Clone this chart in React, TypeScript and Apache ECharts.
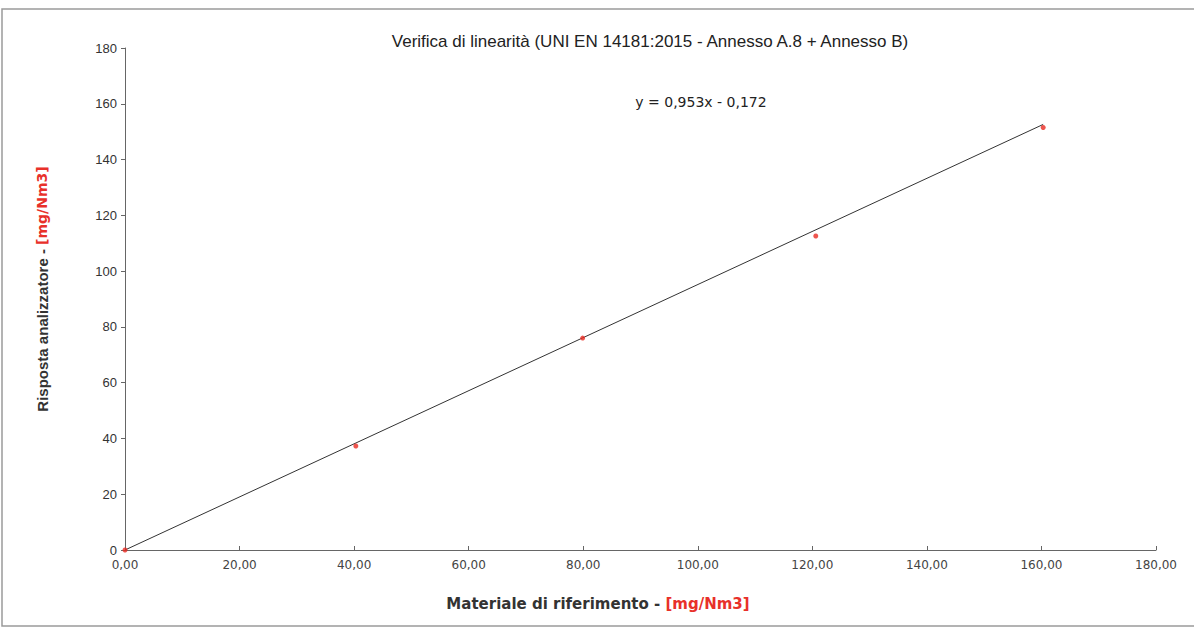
import React, { useEffect, useRef } from "react";
import * as echarts from "echarts";

const titleText = "Verifica di linearità (UNI EN 14181:2015 - Annesso A.8 + Annesso B)";
const equationText = "y = 0,953x - 0,172";
const refValues = [0, 40.3, 79.9, 120.6, 160.3];
const analyzerValues = [0, 37.3, 76.0, 112.6, 151.5];
const trendSlope = 0.953;
const trendIntercept = -0.172;
const xTicksMax = 180;
const yTicksMax = 180;
const tickStep = 20;

export default function App() {
  const ref = useRef<HTMLDivElement>(null);
  useEffect(() => {
    if (!ref.current) return;
    const chart = echarts.init(ref.current, undefined, { renderer: "svg" });
    const points = refValues.map((x, i) => [x, analyzerValues[i]]);
    const xMinData = Math.min(...refValues);
    const xMaxData = Math.max(...refValues);
    const trend = [
      [xMinData, Math.max(0, trendSlope * xMinData + trendIntercept)],
      [xMaxData, trendSlope * xMaxData + trendIntercept],
    ];
    chart.setOption({
      animation: false,
      backgroundColor: "#ffffff",
      title: {
        text: titleText,
        left: 645,
        top: 28,
        textAlign: "center",
        textStyle: {
          fontFamily: "Liberation Sans",
          fontSize: 17,
          fontWeight: "normal",
          color: "#222",
        },
      },
      grid: { left: 125, right: 38, top: 48, bottom: 80 },
      xAxis: {
        type: "value",
        min: 0,
        max: xTicksMax,
        interval: tickStep,
        axisLine: { show: true, lineStyle: { color: "#666", width: 1 } },
        axisTick: { show: true, inside: true, length: 4, lineStyle: { color: "#666" } },
        splitLine: { show: false },
        axisLabel: {
          margin: 9,
          fontFamily: "DejaVu Sans",
          fontSize: 12,
          color: "#444",
          formatter: (v: number) => v.toFixed(2).replace(".", ","),
        },
      },
      yAxis: {
        type: "value",
        min: 0,
        max: yTicksMax,
        interval: tickStep,
        axisLine: { show: true, lineStyle: { color: "#666", width: 1 } },
        axisTick: { show: true, inside: false, length: 4, lineStyle: { color: "#666" } },
        splitLine: { show: false },
        axisLabel: {
          margin: 8,
          fontFamily: "Liberation Sans",
          fontSize: 13,
          color: "#333",
        },
      },
      graphic: [
        {
          type: "rect",
          shape: { x: 2, y: 9, width: 1200, height: 617 },
          style: { fill: "none", stroke: "#9a9a9a", lineWidth: 1.5 },
          silent: true,
        },
        {
          type: "text",
          x: 701,
          y: 102,
          style: {
            text: equationText,
            fontFamily: "DejaVu Sans",
            fontSize: 14,
            fill: "#222",
            align: "center",
            verticalAlign: "middle",
          },
        },
        {
          type: "text",
          x: 598,
          y: 604,
          style: {
            text: "{a|Materiale di riferimento - }{b|[mg/Nm3]}",
            align: "center",
            verticalAlign: "middle",
            rich: {
              a: { fontFamily: "DejaVu Sans", fontWeight: "bold", fontSize: 15, fill: "#333" },
              b: { fontFamily: "DejaVu Sans", fontWeight: "bold", fontSize: 15, fill: "#e8302a" },
            },
          },
        },
        {
          type: "text",
          x: 42,
          y: 289,
          rotation: Math.PI / 2,
          style: {
            text: "{a|Risposta analizzatore - }{b|[mg/Nm3]}",
            align: "center",
            verticalAlign: "middle",
            rich: {
              a: { fontFamily: "Liberation Sans", fontWeight: "bold", fontSize: 15, fill: "#333" },
              b: { fontFamily: "DejaVu Sans", fontWeight: "bold", fontSize: 14, fill: "#e8302a" },
            },
          },
        },
      ],
      series: [
        {
          type: "line",
          data: trend,
          symbol: "none",
          lineStyle: { color: "#333", width: 1 },
          silent: true,
          z: 2,
        },
        {
          type: "scatter",
          data: points,
          symbol: "circle",
          symbolSize: 5,
          itemStyle: { color: "#ea2b22" },
          z: 3,
        },
      ],
    });
    return () => chart.dispose();
  }, []);
  return (
    <div
      ref={ref}
      style={{ position: "fixed", left: 0, top: 0, width: 1194, height: 630 }}
    />
  );
}
